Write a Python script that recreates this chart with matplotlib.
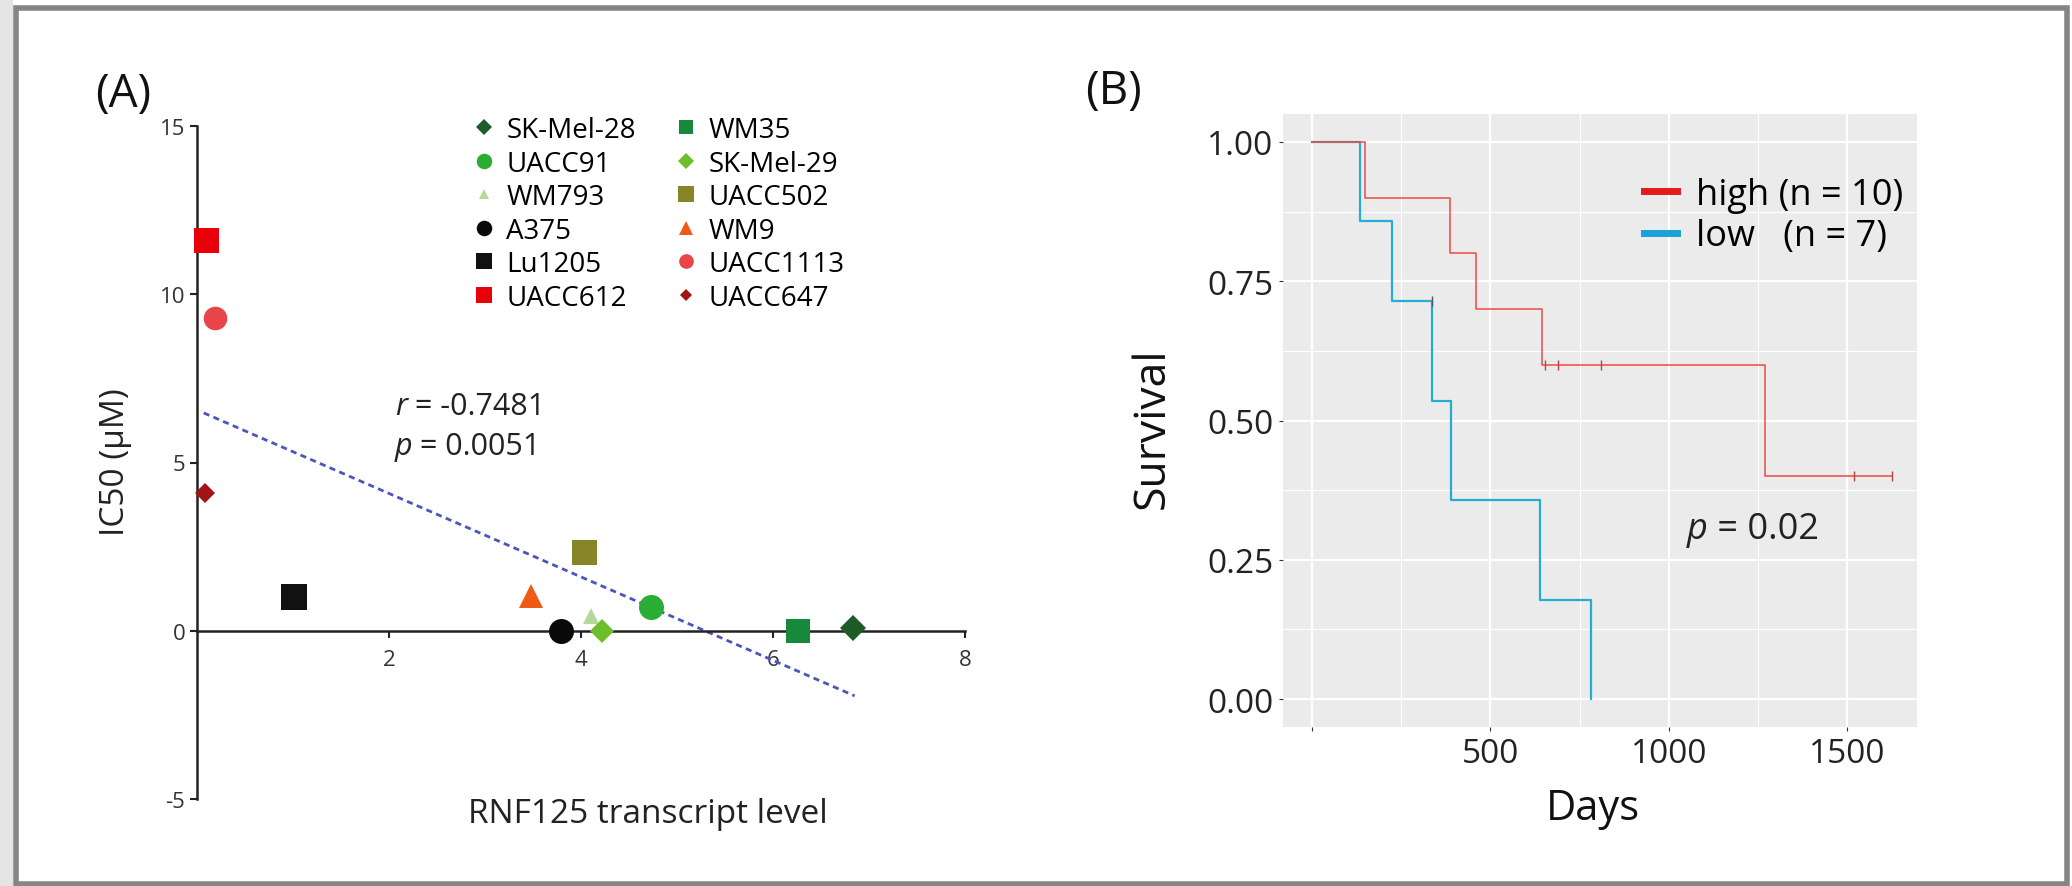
import matplotlib

matplotlib.use("Agg")

import matplotlib.pyplot as plt
import numpy as np
from matplotlib.lines import Line2D
from matplotlib.patches import Rectangle

plt.rcParams["font.family"] = ["Open Sans", "DejaVu Sans"]
plt.rcParams["axes.unicode_minus"] = False

W, H = 2072, 887

# ---- panel A: IC50 vs RNF125 transcript level ----
cell_lines = ["SK-Mel-28", "UACC91", "WM793", "A375", "Lu1205", "UACC612",
              "WM35", "SK-Mel-29", "UACC502", "WM9", "UACC1113", "UACC647"]
rnf125_level = [6.83, 4.73, 4.10, 3.79, 1.01, 0.09,
                6.26, 4.22, 4.03, 3.48, 0.19, 0.08]
ic50_um = [0.07, 0.71, 0.43, 0.0, 1.01, 11.6,
           0.0, 0.0, 2.35, 1.04, 9.3, 4.08]
line_markers = ["D", "o", "^", "o", "s", "s", "s", "D", "s", "^", "o", "D"]
line_colors = ["#1d5c28", "#2aad34", "#b3d99a", "#0a0a0a", "#111111", "#e8000b",
               "#16893a", "#6cbf2a", "#868628", "#f05a14", "#e8454b", "#a31515"]
marker_sizes = [13, 18, 12, 18, 19, 18, 17, 12.5, 18, 17, 17, 10]

fit_slope = -1.24
fit_intercept = 6.56
fit_x_range = [0.07, 6.85]
r_value = "-0.7481"
p_value_a = "0.0051"

# ---- panel B: Kaplan-Meier survival ----
high_days = [148, 388, 459, 644, 653, 690, 810, 1269, 1518, 1624]
high_event = [1, 1, 1, 1, 0, 0, 0, 1, 0, 0]
low_days = [135, 224, 335, 337, 390, 638, 782]
low_event = [1, 1, 0, 1, 1, 1, 1]
p_value_b = "0.02"


def km_curve(days, events):
    order = np.argsort(days)
    t = np.asarray(days)[order]
    e = np.asarray(events)[order]
    at_risk = len(t)
    surv = 1.0
    xs, ys, cx, cy = [0], [1.0], [], []
    for ti, ei in zip(t, e):
        if ei:
            surv *= (at_risk - 1) / at_risk
        else:
            cx.append(ti)
            cy.append(surv)
        xs.append(ti)
        ys.append(surv)
        at_risk -= 1
    return xs, ys, cx, cy


fig = plt.figure(figsize=(W / 100, H / 100), dpi=100)

# picture frame
fig.add_artist(Rectangle((0, 0), 13 / W, 1, transform=fig.transFigure,
                         color="#e4e4e4", lw=0, zorder=0))
fig.add_artist(Rectangle((16 / W, 2 / H), (2067 - 16) / W, (878 - 2) / H,
                         transform=fig.transFigure, fill=False,
                         ec="#858585", lw=4, zorder=10))

# ---------------- panel A ----------------
axA = fig.add_axes([197 / W, (H - 800) / H, 768 / W, 673 / H])
axA.set_xlim(0, 8)
axA.set_ylim(-5, 15)
for side in ("top", "right"):
    axA.spines[side].set_visible(False)
axA.spines["bottom"].set_position(("data", 0))
for side in ("left", "bottom"):
    axA.spines[side].set_linewidth(1.8)
    axA.spines[side].set_color("#222222")
axA.set_xticks([2, 4, 6, 8])
axA.set_yticks([-5, 0, 5, 10, 15])
axA.tick_params(length=5, width=1.5, color="#222222", labelsize=16,
                labelcolor="#333333")
axA.tick_params(axis="x", pad=8)

xs_fit = np.array(fit_x_range)
axA.plot(xs_fit, fit_intercept + fit_slope * xs_fit, ls=(0, (2.2, 1.6)),
         color="#4c56b8", lw=2.0, zorder=2)

handles = []
for name, x, y, m, c, s in zip(cell_lines, rnf125_level, ic50_um,
                               line_markers, line_colors, marker_sizes):
    h, = axA.plot(x, y, marker=m, ms=s, color=c, mec=c, mew=0, ls="none",
                  clip_on=False, zorder=3, label=name)
    handles.append(h)

axA.legend(handles=handles, ncol=2, loc="upper left",
           bbox_to_anchor=(473 / W, 1 - 117 / H),
           bbox_transform=fig.transFigure, frameon=False, fontsize=20,
           markerscale=0.62, handlelength=0.8, handletextpad=0.4,
           columnspacing=1.4, labelspacing=0.2, borderpad=0,
           borderaxespad=0)

t1 = axA.text(2.06, 6.67, "r", style="italic", fontsize=22, va="center",
              color="#222222")
axA.annotate(f" = {r_value}", xy=(1, 0), xycoords=t1, va="bottom",
             fontsize=22, color="#222222")
t2 = axA.text(2.06, 5.5, "p", style="italic", fontsize=22, va="center",
              color="#222222")
axA.annotate(f" = {p_value_a}", xy=(1, 0), xycoords=t2, va="bottom",
             fontsize=22, color="#222222")

axA.set_ylabel("IC50 (μM)", fontsize=24, color="#222222")
axA.yaxis.set_label_coords((115 - 197) / 768, (800 - 462) / 673)
axA.yaxis.label.set_va("center")
axA.set_xlabel("RNF125 transcript level", fontsize=24, color="#222222")
axA.xaxis.set_label_coords((648 - 197) / 768, (800 - 815) / 673)
axA.xaxis.label.set_va("center")

fig.text(95 / W, 1 - 95 / H, "(A)", fontsize=33, va="center", ha="left",
         color="#111111")

# ---------------- panel B ----------------
axB = fig.add_axes([1283 / W, (H - 728) / H, 634 / W, 613 / H])
axB.set_facecolor("#ebebeb")
for sp in axB.spines.values():
    sp.set_visible(False)
axB.set_xlim(-81, 1695)
axB.set_ylim(-0.05, 1.05)
axB.set_xticks([0, 500, 1000, 1500])
axB.set_xticklabels(["", "500", "1000", "1500"])
axB.set_yticks([0, 0.25, 0.5, 0.75, 1.0])
axB.set_yticklabels(["0.00", "0.25", "0.50", "0.75", "1.00"])
axB.set_xticks([250, 750, 1250], minor=True)
axB.set_yticks([0.125, 0.375, 0.625, 0.875], minor=True)
axB.tick_params(which="major", length=3, width=0.8, color="#333333",
                labelsize=24, labelcolor="#222222", pad=4)
axB.tick_params(which="minor", length=0)
axB.grid(which="major", color="white", lw=1.6)
axB.grid(which="minor", color="white", lw=0.8)
axB.set_axisbelow(True)

hx, hy, hcx, hcy = km_curve(high_days, high_event)
lx, ly, lcx, lcy = km_curve(low_days, low_event)
axB.step(lx, ly, where="post", color="#25acd0", lw=1.6, zorder=3)
axB.plot(lcx, lcy, ls="none", marker="|", ms=7, mew=1, color="#555555",
         zorder=4)
axB.step(hx, hy, where="post", color="#ee4a45", lw=1.1, zorder=3)
axB.plot(hcx, hcy, ls="none", marker="|", ms=7, mew=1, color="#c04040",
         zorder=4)

leg_handles = [Line2D([], [], color="#e41a1c", lw=5),
                Line2D([], [], color="#1ba0d8", lw=5)]
axB.legend(leg_handles, ["high (n = 10)", "low   (n = 7)"], loc="upper left",
           bbox_to_anchor=(1644 / W, 1 - 178 / H),
           bbox_transform=fig.transFigure, frameon=False, fontsize=26,
           handlelength=0.9, handletextpad=0.55, labelspacing=0.15,
           borderpad=0, borderaxespad=0)

tp = axB.text(1050, 0.305, "p", style="italic", fontsize=26, va="center",
              color="#222222")
axB.annotate(f" = {p_value_b}", xy=(1, 0), xycoords=tp, va="bottom",
             fontsize=26, color="#222222")

axB.set_ylabel("Survival", fontsize=32, color="#111111")
axB.yaxis.set_label_coords((1152 - 1283) / 634, (728 - 428) / 613)
axB.yaxis.label.set_va("center")
axB.set_xlabel("Days", fontsize=30, color="#111111")
axB.xaxis.set_label_coords((1593 - 1283) / 634, (728 - 809) / 613)
axB.xaxis.label.set_va("center")

fig.text(1085 / W, 1 - 92 / H, "(B)", fontsize=33, va="center", ha="left",
         color="#111111")

fig.savefig("out.png", dpi=100, facecolor="white")
plt.close(fig)
